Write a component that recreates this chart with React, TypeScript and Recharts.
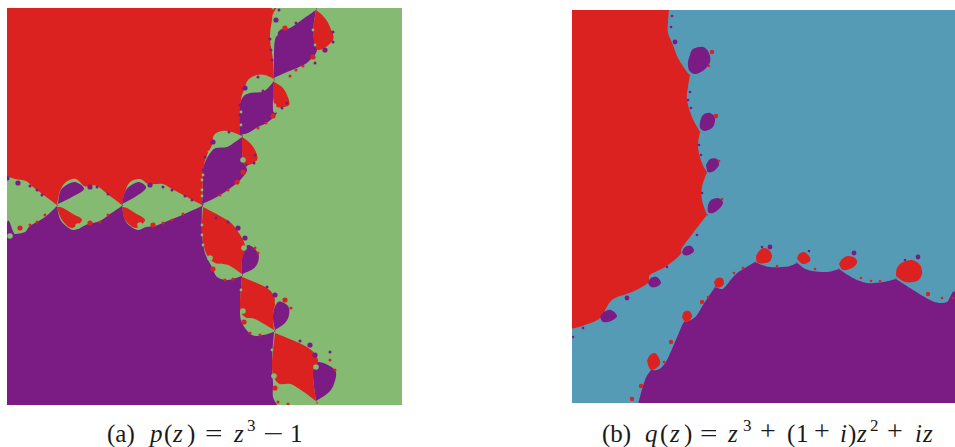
import React from 'react';
import { ComposedChart, Area, Scatter, XAxis, YAxis } from 'recharts';

type Pt = [number, number];

const RED = '#dc2221';
const PURPLE = '#7a1c84';
const GREEN = '#85ba72';
const BLUE = '#559bb5';

// ---- panel (a) regions. a repeated vertex is a sharp corner
const aRed: Pt[] = [[6, 7], [6, 7], [277, 7], [277, 7], [273, 14], [272, 20], [270, 38], [273, 60], [274, 79], [274, 79], [265, 75], [257, 75], [248, 80], [244, 90], [241, 100], [241, 120], [242, 136], [242, 136], [232, 132], [222, 131], [214, 135], [212, 145], [207, 155], [204, 165], [203, 180], [202, 205], [202, 205], [185, 196], [172, 189], [163, 184], [155, 184], [148, 184], [140, 179], [130, 182], [125, 192], [122, 205], [122, 205], [110, 196], [97, 186], [90, 186], [84, 186], [76, 179], [66, 182], [60, 191], [57, 205], [57, 205], [45, 196], [33, 187], [26, 181], [15, 179], [6, 176], [6, 176]];
const aPurple: Pt[] = [[6, 406], [6, 406], [6, 233], [15, 234], [25, 232], [30, 226], [45, 217], [57, 206], [57, 206], [60, 219], [66, 226], [73, 230], [80, 228], [88, 224], [100, 221], [110, 214], [122, 206], [122, 206], [125, 220], [130, 226], [138, 230], [146, 227], [155, 226], [165, 222], [180, 216], [202, 206], [202, 206], [202, 233], [205, 253], [212, 267], [217, 277], [227, 280], [236, 278], [242, 276], [242, 276], [240, 307], [242, 323], [252, 335], [263, 335], [274, 332], [274, 332], [272, 360], [273, 383], [273, 397], [278, 406], [278, 406]];
const aPurpleLobes: Pt[][] = [
  [[202, 204], [202, 204], [203, 185], [203, 170], [206, 160], [211, 152], [216, 148], [227, 147], [235, 142], [242, 137], [242, 137], [243, 160], [247, 170], [242, 178], [237, 183], [225, 192], [213, 199], [202, 204], [202, 204]],
  [[240, 135], [240, 135], [240, 107], [243, 97], [250, 93], [262, 92], [268, 88], [274, 81], [274, 81], [273, 110], [277, 113], [268, 122], [258, 127], [248, 133], [240, 135], [240, 135]],
  [[274, 78], [274, 78], [274, 55], [275, 40], [280, 30], [290, 28], [303, 19], [316, 10], [316, 10], [313, 33], [317, 50], [308, 62], [297, 68], [287, 72], [274, 78], [274, 78]],
  [[58, 204], [58, 204], [60, 192], [65, 186], [75, 182], [84, 189], [72, 197], [58, 204], [58, 204]],
  [[122, 204], [122, 204], [125, 192], [130, 186], [139, 182], [146, 188], [135, 197], [122, 204], [122, 204]],
  [[242, 274], [242, 274], [253, 269], [258, 262], [258, 253], [248, 245], [242, 258], [242, 274], [242, 274]],
  [[275, 330], [275, 330], [285, 323], [289, 315], [288, 306], [278, 302], [273, 315], [275, 330], [275, 330]],
  [[316, 401], [316, 401], [328, 393], [334, 384], [335, 370], [318, 362], [313, 373], [316, 401], [316, 401]],
];
const aRedLobes: Pt[][] = [
  [[242, 137], [242, 137], [249, 142], [255, 150], [257, 160], [245, 165], [242, 150], [242, 137], [242, 137]],
  [[274, 82], [274, 82], [282, 87], [287, 95], [289, 105], [277, 107], [273, 97], [274, 82], [274, 82]],
  [[316, 10], [316, 10], [324, 17], [330, 27], [333, 40], [318, 50], [313, 33], [316, 10], [316, 10]],
  [[57, 207], [57, 207], [62, 220], [72, 228], [82, 220], [73, 214], [63, 208], [57, 207], [57, 207]],
  [[122, 207], [122, 207], [125, 220], [136, 228], [145, 220], [135, 213], [127, 208], [122, 207], [122, 207]],
  [[203, 207], [203, 207], [220, 216], [233, 225], [245, 245], [242, 260], [242, 274], [242, 274], [228, 265], [215, 263], [206, 253], [202, 233], [203, 207], [203, 207]],
  [[242, 277], [242, 277], [267, 288], [275, 300], [273, 315], [274, 330], [274, 330], [255, 319], [245, 317], [240, 307], [242, 277], [242, 277]],
  [[275, 333], [275, 333], [307, 347], [318, 360], [313, 373], [316, 401], [316, 401], [293, 385], [278, 383], [272, 367], [275, 333], [275, 333]],
];
const aPurpleBig: Pt[] = [[276, 20], [245, 88], [213, 142], [325, 50], [18, 183], [150, 185], [90, 187], [7, 178], [7, 225], [238, 228], [245, 238], [275, 295], [310, 345], [315, 355]];
const aPurpleSmall: Pt[] = [[279, 10], [270, 39], [271, 50], [272, 60], [240, 105], [240, 115], [205, 157], [203, 170], [333, 32], [333, 42], [315, 63], [287, 103], [282, 108], [255, 155], [254, 163], [246, 165], [30, 186], [37, 190], [97, 187], [163, 187], [172, 190], [228, 222], [267, 287], [218, 150], [42, 195], [108, 194], [185, 196], [192, 200], [258, 77], [229, 132], [296, 23], [263, 91], [300, 341], [216, 218], [330, 352]];
const aRedBig: Pt[] = [[313, 57], [273, 116], [243, 172], [237, 182], [20, 228], [90, 223], [153, 225], [213, 269], [244, 322], [275, 388], [285, 28], [285, 300]];
const aRedSmall: Pt[] = [[303, 66], [296, 70], [266, 123], [258, 128], [228, 190], [220, 195], [30, 225], [37, 222], [100, 222], [163, 223], [172, 220], [255, 248], [330, 360], [335, 370], [225, 280], [233, 279], [250, 333], [260, 335], [278, 402], [288, 404], [45, 215], [108, 215], [183, 214], [258, 253], [291, 308], [290, 76]];
const aGreenBig: Pt[] = [[275, 34], [243, 160], [78, 226], [140, 225], [210, 258], [243, 311], [274, 376], [244, 248], [316, 367], [10, 236]];
const aGreenSmall: Pt[] = [[209, 152], [315, 45], [313, 30], [275, 105], [202, 180], [202, 190], [202, 196], [202, 225], [202, 235], [203, 245], [276, 302], [8, 180], [273, 8], [241, 112], [241, 125], [272, 45], [272, 350], [241, 290], [203, 175]];

// ---- panel (b) regions
const bRed: Pt[] = [[571, 9], [571, 9], [669, 9], [669, 9], [668, 23], [668, 33], [673, 45], [678, 58], [687, 72], [690, 75], [690, 75], [688, 87], [687, 100], [692, 117], [700, 132], [700, 132], [698, 147], [702, 163], [707, 172], [707, 172], [702, 187], [702, 200], [707, 215], [707, 215], [693, 233], [682, 248], [680, 255], [665, 267], [650, 275], [648, 283], [632, 292], [612, 300], [600, 318], [585, 325], [571, 329], [571, 329]];
const bPurple: Pt[] = [[638, 404], [638, 404], [645, 380], [651, 370], [651, 370], [657, 370], [662, 367], [668, 358], [678, 335], [684, 322], [691, 320], [697, 315], [703, 305], [715, 287], [715, 287], [721, 289], [725, 287], [735, 275], [745, 268], [755, 262], [755, 262], [762, 265], [770, 267], [783, 267], [790, 266], [797, 263], [797, 263], [808, 270], [827, 272], [839, 269], [839, 269], [853, 278], [867, 283], [883, 282], [896, 279], [896, 279], [910, 288], [930, 300], [940, 303], [947, 302], [956, 298], [956, 404], [956, 404]];
const bPurpleBlobs: Pt[][] = [
  [[690, 55], [693, 49], [703, 47], [709, 53], [710, 62], [704, 70], [695, 74], [689, 70], [688, 62]],
  [[700, 122], [703, 115], [710, 113], [715, 118], [713, 127], [705, 131], [700, 128]],
  [[706, 165], [710, 159], [717, 159], [719, 165], [714, 171], [708, 172]],
  [[708, 205], [711, 200], [718, 198], [723, 202], [720, 208], [713, 213], [708, 212]],
  [[600, 317], [604, 312], [611, 310], [617, 316], [611, 321], [603, 322]],
  [[648, 283], [651, 278], [657, 277], [661, 283], [656, 287], [651, 287]],
  [[682, 252], [685, 247], [691, 246], [694, 251], [689, 255], [684, 255]],
];
const bRedBlobs: Pt[][] = [
  [[647, 361], [650, 355], [655, 353], [659, 358], [660, 364], [655, 369], [650, 369]],
  [[682, 317], [684, 312], [689, 311], [692, 316], [689, 321], [685, 322]],
  [[714, 282], [717, 278], [722, 278], [724, 283], [721, 287], [716, 287]],
  [[756, 256], [759, 251], [764, 248], [769, 250], [772, 256], [769, 262], [758, 263]],
  [[797, 259], [799, 254], [804, 252], [809, 256], [810, 261], [803, 264]],
  [[839, 264], [842, 259], [848, 256], [855, 258], [857, 263], [852, 268], [843, 270]],
  [[896, 276], [897, 268], [903, 262], [912, 260], [920, 265], [922, 274], [917, 281], [905, 282]],
];
const bPurpleBig: Pt[] = [[675, 42], [627, 298], [918, 257], [770, 247], [854, 253]];
const bPurpleSmall: Pt[] = [[672, 16], [671, 27], [667, 267], [697, 235], [583, 328], [573, 337], [762, 247], [809, 251], [905, 260], [690, 92], [688, 100], [691, 108], [699, 145], [701, 155], [702, 193]];
const bRedBig: Pt[] = [[712, 52], [632, 399], [928, 294], [671, 342], [716, 116], [641, 386], [702, 302]];
const bRedSmall: Pt[] = [[719, 161], [722, 199], [734, 273], [743, 268], [708, 297], [942, 298], [953, 298], [861, 278], [871, 281], [880, 281], [777, 266], [815, 269], [743, 268], [709, 66], [664, 362]];

// catmull-rom line that keeps the order of the vertices, so a closed loop stays a loop
class LoopCurve {
  ctx: any;
  line = NaN;
  pts: Pt[] = [];
  constructor(ctx: any) { this.ctx = ctx; }
  areaStart() { this.line = 0; }
  areaEnd() { this.line = NaN; }
  lineStart() { this.pts = []; }
  point(x: number, y: number) { this.pts.push([+x, +y]); }
  lineEnd() {
    const p = this.pts;
    if (p.length) {
      if (this.line === 1) this.ctx.lineTo(p[0][0], p[0][1]);
      else this.ctx.moveTo(p[0][0], p[0][1]);
      for (let i = 0; i < p.length - 1; i++) {
        const a = p[Math.max(i - 1, 0)], b = p[i], c = p[i + 1], d = p[Math.min(i + 2, p.length - 1)];
        this.ctx.bezierCurveTo(b[0] + (c[0] - a[0]) / 6, b[1] + (c[1] - a[1]) / 6, c[0] - (d[0] - b[0]) / 6, c[1] - (d[1] - b[1]) / 6, c[0], c[1]);
      }
    }
    if (this.line === 1) this.ctx.closePath();
    this.line = 1 - this.line;
  }
}
const loopCurve: any = (ctx: any) => new LoopCurve(ctx);

const toRows = (pts: Pt[]) => pts.map(([x, y]) => ({ x, y }));
const closed = (pts: Pt[]) => toRows([...pts, pts[0]]);
const dot = (r: number) => (p: any) => <circle cx={p.cx} cy={p.cy} r={r} fill={p.fill} />;

const Region = (pts: Pt[], fill: string, key: string) => (
  <Area key={key} data={closed(pts)} dataKey="y" type={loopCurve} baseValue={0} stroke="none" fill={fill} fillOpacity={1} dot={false} activeDot={false} isAnimationActive={false} />
);
const Beads = (pts: Pt[], fill: string, r: number, key: string) => (
  <Scatter key={key} data={toRows(pts)} dataKey="y" fill={fill} shape={dot(r)} isAnimationActive={false} />
);

const Panel: React.FC<{ left: number; top: number; xDomain: Pt; yDomain: Pt; bg: string; children: React.ReactNode }> = ({ left, top, xDomain, yDomain, bg, children }) => {
  const width = xDomain[1] - xDomain[0];
  const height = yDomain[1] - yDomain[0];
  return (
    <div style={{ position: 'absolute', left, top, width, height, overflow: 'hidden' }}>
      <div style={{ width, height, background: bg, filter: 'blur(0.5px)' }}>
        <ComposedChart width={width} height={height} margin={{ top: 0, right: 0, bottom: 0, left: 0 }}>
          <XAxis dataKey="x" type="number" domain={xDomain} hide allowDataOverflow />
          <YAxis dataKey="y" type="number" domain={yDomain} reversed hide allowDataOverflow />
          {children}
        </ComposedChart>
      </div>
    </div>
  );
};

const T: React.FC<{ x: number; i?: boolean; sup?: boolean; wide?: string; children: React.ReactNode }> = ({ x, i, sup, wide, children }) => (
  <span style={{
    position: 'absolute', left: x, top: sup ? 412 : 420, fontFamily: '"Liberation Serif", serif', fontStyle: i ? 'italic' : 'normal',
    fontSize: sup ? 17 : 25, lineHeight: '24px', color: '#1a1a1a', whiteSpace: 'nowrap',
    transform: wide, transformOrigin: '0 55%', marginTop: 2,
  }}>{children}</span>
);

// the plus signs of the caption are larger than the serif font's own
const Plus: React.FC<{ x: number }> = ({ x }) => (
  <span style={{ position: 'absolute', left: x, top: 421, fontFamily: '"Liberation Serif", serif', fontSize: 28, lineHeight: '20px', color: '#1a1a1a' }}>+</span>
);

export default function App() {
  return (
    <div style={{ position: 'absolute', left: 0, top: 0, width: 955, height: 447, background: '#fff', overflow: 'hidden' }}>
      <Panel left={7} top={8} xDomain={[7, 402]} yDomain={[8, 405]} bg={GREEN}>
        {Region(aRed, RED, 'a-red')}
        {Region(aPurple, PURPLE, 'a-purple')}
        {aPurpleLobes.map((p, i) => Region(p, PURPLE, `a-pl-${i}`))}
        {aRedLobes.map((p, i) => Region(p, RED, `a-rl-${i}`))}
        {Beads(aGreenBig, GREEN, 2.8, 'a-gb')}
        {Beads(aGreenSmall, GREEN, 1.4, 'a-gs')}
        {Beads(aPurpleBig, PURPLE, 2.6, 'a-pb')}
        {Beads(aPurpleSmall, PURPLE, 1.5, 'a-ps')}
        {Beads(aRedBig, RED, 2.6, 'a-rb')}
        {Beads(aRedSmall, RED, 1.5, 'a-rs')}
      </Panel>
      <Panel left={572} top={10} xDomain={[572, 955]} yDomain={[10, 403]} bg={BLUE}>
        {Region(bRed, RED, 'b-red')}
        {Region(bPurple, PURPLE, 'b-purple')}
        {bPurpleBlobs.map((p, i) => Region(p, PURPLE, `b-pb-${i}`))}
        {bRedBlobs.map((p, i) => Region(p, RED, `b-rb-${i}`))}
        {Beads(bPurpleBig, PURPLE, 2.4, 'b-pB')}
        {Beads(bPurpleSmall, PURPLE, 1.3, 'b-ps')}
        {Beads(bRedBig, RED, 2.2, 'b-rB')}
        {Beads(bRedSmall, RED, 1.3, 'b-rs')}
      </Panel>
      <T x={107}>(a)</T>
      <T x={150} i>p</T><T x={164}>(</T><T x={173} i>z</T><T x={187}>)</T>
      <T x={205} wide="scaleX(1.25)">=</T>
      <T x={234} i>z</T><T x={247} sup>3</T>
      <T x={263} wide="scaleX(1.45)">−</T>
      <T x={290}>1</T>

      <T x={602}>(b)</T>
      <T x={645} i>q</T><T x={660}>(</T><T x={670} i>z</T><T x={684}>)</T>
      <T x={700} wide="scaleX(1.25)">=</T>
      <T x={728} i>z</T><T x={743} sup>3</T>
      <Plus x={760} />
      <T x={787}>(</T><T x={796}>1</T>
      <Plus x={814} />
      <T x={840} i>i</T><T x={848}>)</T><T x={857} i>z</T><T x={870} sup>2</T>
      <Plus x={887} />
      <T x={915} i>i</T><T x={923} i>z</T>
    </div>
  );
}
